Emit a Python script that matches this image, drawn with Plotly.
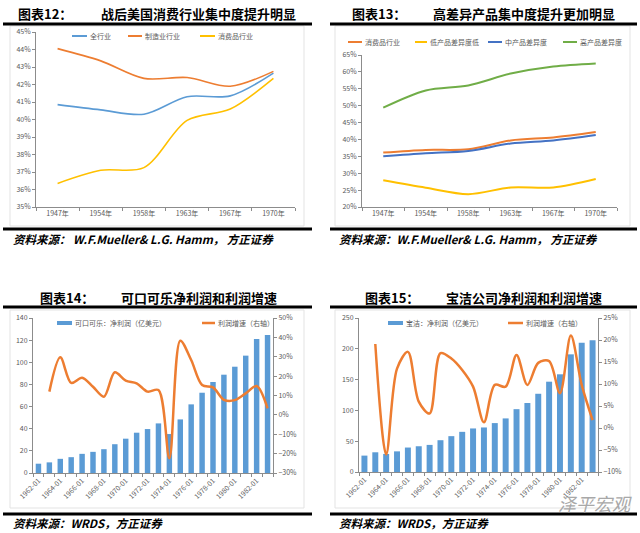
import plotly.graph_objects as go

W, H = 640, 533
def X(px): return px / W
def Y(py): return 1 - py / H

# ---------------- data ----------------
years_a = ["1947年", "1954年", "1958年", "1963年", "1967年", "1970年"]
# chart 12
all_ind = [40.85, 40.55, 40.3, 41.3, 41.35, 42.65]
manu_ind = [44.05, 43.35, 42.35, 42.4, 41.9, 42.75]
cons_ind = [36.35, 37.1, 37.25, 39.95, 40.6, 42.35]
# chart 13
cons2 = [36.1, 36.9, 37.1, 39.7, 40.6, 42.2]
low_diff = [27.9, 25.7, 23.8, 25.8, 25.8, 28.3]
mid_diff = [35.0, 35.9, 36.6, 38.8, 39.7, 41.3]
high_diff = [49.4, 54.5, 56.0, 59.5, 61.6, 62.5]
# chart 14 / 15
years_b = list(range(1962, 1984))
ko_profit = [8.4, 9.6, 12.8, 14.3, 17.3, 19.1, 21.5, 26, 31, 36.4, 39.7, 44.8,
             35.2, 48.4, 62, 72.5, 82.2, 88.8, 96, 106, 121, 124.7]
ko_growth = [12, 29.7, 16.5, 19.2, 14.5, 9.4, 22, 17.7, 16.3, 12, 12.8, -22.4,
             38.3, 28.3, 15.4, 14.2, 7.8, 7.6, 11.1, 14.9, 3.4]
pg_profit = [26.6, 32, 29.3, 33.5, 39.7, 41.8, 44, 51.6, 58.2, 65.2, 70.7, 72.3,
             79.4, 87, 102, 112, 127, 146.6, 158.6, 191, 210, 214]
pg_growth = [19.1, -6, 13.5, 17.3, 6, 3.3, 17, 15.8, 13.2, 9.4, 1.3, 9.8,
             9.4, 16.6, 9.8, 14.8, 15.2, 7.9, 21, 9.8, 1.8]
tick_years = [y for y in years_b if y % 2 == 0]
tick_text = [f"{y}-01" for y in tick_years]

BLUE = "#5B9BD5"; DBLUE = "#4472C4"; ORANGE = "#ED7D31"; YELLOW = "#FFC000"; GREEN = "#70AD47"
AXC = "#8C8C8C"; TXT = "#595959"
CJK = "Noto Sans CJK SC"
tf = dict(family=CJK, size=7, color=TXT)

fig = go.Figure()

def line(x, y, name, color, xa, ya, width=1.6):
    fig.add_trace(go.Scatter(x=x, y=y, name=name, mode="lines", xaxis=xa, yaxis=ya,
                             line=dict(color=color, width=width, shape="spline", smoothing=0.9),
                             showlegend=False))

line(years_a, all_ind, "全行业", BLUE, "x", "y")
line(years_a, manu_ind, "制造业行业", ORANGE, "x", "y")
line(years_a, cons_ind, "消费品行业", YELLOW, "x", "y")

line(years_a, cons2, "消费品行业", ORANGE, "x2", "y2", 2)
line(years_a, low_diff, "低产品差异度低", YELLOW, "x2", "y2", 2)
line(years_a, mid_diff, "中产品差异度", DBLUE, "x2", "y2", 2)
line(years_a, high_diff, "高产品差异度", GREEN, "x2", "y2", 2)

fig.add_trace(go.Bar(x=years_b, y=ko_profit, name="可口可乐：净利润（亿美元）", xaxis="x3", yaxis="y3",
                     marker=dict(color=BLUE, line=dict(width=0)), width=0.5, showlegend=False))
line(years_b[1:], ko_growth, "利润增速（右轴）", ORANGE, "x3", "y4", 2.5)
fig.add_trace(go.Bar(x=years_b, y=pg_profit, name="宝洁：净利润（亿美元）", xaxis="x4", yaxis="y5",
                     marker=dict(color=BLUE, line=dict(width=0)), width=0.55, showlegend=False))
line(years_b[1:], pg_growth, "利润增速（右轴）", ORANGE, "x4", "y6", 2.5)

base_ax = dict(showgrid=False, zeroline=False, showline=True, linecolor=AXC, linewidth=1,
               ticks="outside", ticklen=3, tickcolor=AXC, tickfont=tf, automargin=False)

cat_ax = dict(base_ax, type="category", range=[-0.5, 5.5], tickson="boundaries")
num_x = dict(base_ax, range=[1961.5, 1983.5], tickmode="array", tickvals=tick_years,
             ticktext=tick_text, tickangle=-45, ticks="",
             minor=dict(tickmode="array", tickvals=[y - 0.5 for y in years_b] + [years_b[-1] + 0.5],
                        ticks="outside", ticklen=3, tickcolor=AXC, showgrid=False))

fig.update_layout(
    width=W, height=H, margin=dict(l=0, r=0, t=0, b=0, autoexpand=False),
    paper_bgcolor="white", plot_bgcolor="white", showlegend=False, bargap=0.5,
    xaxis=dict(cat_ax, domain=[X(36), X(295)], anchor="y"),
    yaxis=dict(base_ax, domain=[Y(207), Y(32)], anchor="x", range=[35, 45], dtick=1, ticksuffix="%"),
    xaxis2=dict(cat_ax, domain=[X(362), X(617)], anchor="y2"),
    yaxis2=dict(base_ax, domain=[Y(207), Y(55)], anchor="x2", range=[20, 65], dtick=5, ticksuffix="%"),
    xaxis3=dict(num_x, domain=[X(33), X(273)], anchor="y3"),
    yaxis3=dict(base_ax, domain=[Y(473), Y(318)], anchor="x3", range=[0, 140], dtick=20),
    yaxis4=dict(base_ax, overlaying="y3", side="right", anchor="x3", range=[-30, 50], dtick=10,
                ticksuffix="%"),
    xaxis4=dict(num_x, domain=[X(359), X(598)], anchor="y5"),
    yaxis5=dict(base_ax, domain=[Y(472), Y(318)], anchor="x4", range=[0, 250], dtick=50),
    yaxis6=dict(base_ax, overlaying="y5", side="right", anchor="x4", range=[-10, 25], dtick=5,
                ticksuffix="%"),
)

shapes = []
annos = []

def hline(x0, x1, y, color="black", width=3):
    shapes.append(dict(type="line", xref="paper", yref="paper", x0=X(x0), x1=X(x1), y0=Y(y), y1=Y(y),
                       line=dict(color=color, width=width)))

def box(x0, y0, x1, y1):
    shapes.append(dict(type="rect", xref="paper", yref="paper", x0=X(x0), x1=X(x1), y0=Y(y1), y1=Y(y0),
                       line=dict(color="#E3E3E3", width=1), layer="below"))

def text(x, y, s, size=7, color=TXT, bold=False, italic=False, xanchor="left", family=CJK):
    annos.append(dict(x=X(x), y=Y(y), xref="paper", yref="paper", text=s, showarrow=False,
                      xanchor=xanchor, yanchor="middle", borderpad=0,
                      font=dict(family=family, size=size, color=color,
                                weight="bold" if bold else "normal",
                                style="italic" if italic else "normal")))

# panel frames
box(10, 26, 304, 226); box(335, 26, 630, 226)
box(10, 310, 304, 508); box(335, 310, 630, 508)

# thick rules
for (a, b) in [(3, 312), (330, 637)]:
    hline(a, b, 24); hline(a, b, 229); hline(a, b, 307); hline(a, b, 514)

# titles
text(17, 13, "图表12：", 13, "#000", bold=True)
text(100, 13, "战后美国消费行业集中度提升明显", 13, "#000", bold=True)
text(351, 13, "图表13：", 13, "#000", bold=True)
text(432, 13, "高差异产品集中度提升更加明显", 13, "#000", bold=True)
text(39, 297, "图表14：", 13, "#000", bold=True)
text(120, 297, "可口可乐净利润和利润增速", 13, "#000", bold=True)
text(364, 297, "图表15：", 13, "#000", bold=True)
text(445, 297, "宝洁公司净利润和利润增速", 13, "#000", bold=True)

# footers
text(12, 239, "资料来源： W.F.Mueller& L.G. Hamm， 方正证券", 11.5, "#000", bold=True, italic=True)
text(338, 239, "资料来源：W.F.Mueller& L.G. Hamm， 方正证券", 11.5, "#000", bold=True, italic=True)
text(12, 523, "资料来源：WRDS，方正证券", 11.5, "#000", bold=True, italic=True)
text(338, 523, "资料来源：WRDS，方正证券", 11.5, "#000", bold=True, italic=True)

# legends (manual)
def leg(x0, x1, y, color, label, width=2):
    shapes.append(dict(type="line", xref="paper", yref="paper", x0=X(x0), x1=X(x1), y0=Y(y), y1=Y(y),
                       line=dict(color=color, width=width)))
    text(x1 + 2, y, label, 7, TXT)

leg(72, 87, 36, BLUE, "全行业")
leg(128, 142, 36, ORANGE, "制造业行业")
leg(200, 215, 36, YELLOW, "消费品行业")
leg(348, 362, 42, ORANGE, "消费品行业")
leg(415, 427, 42, YELLOW, "低产品差异度低")
leg(488, 502, 42, DBLUE, "中产品差异度")
leg(563, 577, 42, GREEN, "高产品差异度")
leg(57, 72, 323, BLUE, "可口可乐：净利润（亿美元）", 4)
leg(202, 215, 323, ORANGE, "利润增速（右轴）", 2.5)
leg(388, 403, 323, BLUE, "宝洁：净利润（亿美元）", 4)
leg(508, 523, 323, ORANGE, "利润增速（右轴）", 2.5)

# watermark
text(557, 503, "泽平宏观", 18, "#A8A8A8", italic=True)

fig.update_layout(shapes=shapes, annotations=annos)
fig.write_html("out.html", config={"displayModeBar": False},
               post_script="document.body.style.margin='0px';document.body.style.overflow='hidden';")
